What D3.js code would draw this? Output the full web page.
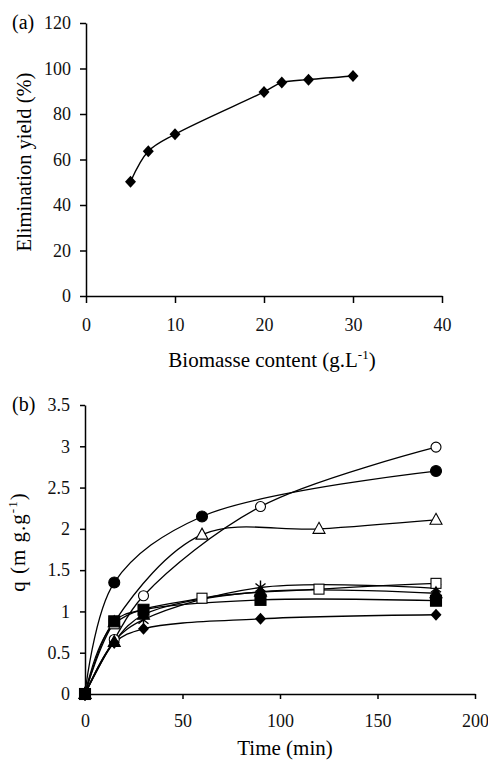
<!DOCTYPE html>
<html>
<head>
<meta charset="utf-8">
<script src="https://cdn.jsdelivr.net/npm/d3@7"></script>
<style>
  body { margin: 0; background: #fff; }
  svg { display: block; font-family: "Liberation Serif", "DejaVu Serif", serif; }
</style>
</head>
<body>
<svg id="chart" width="488" height="761"></svg>
<script>
// panel (a) : elimination yield vs biomass
var biomass = [5, 7, 10, 20, 22, 25, 30];
var yieldPct = [50.2, 63.6, 71.1, 89.7, 93.8, 95.1, 96.7];
var aTicksX = [0, 10, 20, 30, 40];
var aTicksY = [0, 20, 40, 60, 80, 100, 120];

// panel (b) : q vs time, one array per series
var tFilledCircle = [0, 15, 60, 180];
var qFilledCircle = [0, 1.35, 2.15, 2.70];
var tOpenCircle = [0, 15, 30, 90, 180];
var qOpenCircle = [0, 0.66, 1.19, 2.27, 2.99];
var tOpenTriangle = [0, 15, 60, 120, 180];
var qOpenTriangle = [0, 0.87, 1.93, 2.00, 2.11];
var tOpenSquare = [0, 15, 60, 120, 180];
var qOpenSquare = [0, 0.85, 1.16, 1.27, 1.34];
var tStar = [0, 15, 30, 90, 180];
var qStar = [0, 0.64, 0.90, 1.29, 1.28];
var tFilledTriangle = [0, 15, 30, 90, 180];
var qFilledTriangle = [0, 0.63, 0.96, 1.24, 1.22];
var tFilledSquare = [0, 15, 30, 90, 180];
var qFilledSquare = [0, 0.88, 1.02, 1.14, 1.13];
var tDiamond = [0, 15, 30, 90, 180];
var qDiamond = [0, 0.62, 0.79, 0.91, 0.96];
var bTicksX = [0, 50, 100, 150, 200];
var bTicksY = [0, 0.5, 1, 1.5, 2, 2.5, 3, 3.5];

var svg = d3.select("#chart");

function zip(t, q) { return t.map(function(d, i) { return [d, q[i]]; }); }

// order matters: later series' markers sit on top
var seriesB = [
  {pts: zip(tStar, qStar), mark: "star"},
  {pts: zip(tFilledCircle, qFilledCircle), mark: "circle"},
  {pts: zip(tOpenCircle, qOpenCircle), mark: "circleOpen"},
  {pts: zip(tOpenTriangle, qOpenTriangle), mark: "triangleOpen"},
  {pts: zip(tOpenSquare, qOpenSquare), mark: "squareOpen"},
  {pts: zip(tFilledTriangle, qFilledTriangle), mark: "triangle"},
  {pts: zip(tFilledSquare, qFilledSquare), mark: "square"},
  {pts: zip(tDiamond, qDiamond), mark: "diamond"}
];

function drawMark(g, kind, x, y) {
  var fill = kind.indexOf("Open") > 0 ? "#fff" : "#000";
  if (kind === "circle" || kind === "circleOpen") {
    g.append("circle").attr("cx", x).attr("cy", y).attr("r", kind === "circle" ? 5.5 : 5)
      .attr("fill", fill).attr("stroke", "#000").attr("stroke-width", 1.1);
  } else if (kind === "square" || kind === "squareOpen") {
    var s = kind === "square" ? 5.5 : 5;
    g.append("rect").attr("x", x - s).attr("y", y - s).attr("width", 2 * s).attr("height", 2 * s)
      .attr("fill", fill).attr("stroke", "#000").attr("stroke-width", 1.1);
  } else if (kind === "triangle" || kind === "triangleOpen") {
    g.append("path").attr("d", "M" + x + "," + (y - 6.5) + "L" + (x + 6) + "," + (y + 4.5) + "L" + (x - 6) + "," + (y + 4.5) + "Z")
      .attr("fill", fill).attr("stroke", "#000").attr("stroke-width", 1.1);
  } else if (kind === "diamond") {
    g.append("path").attr("d", "M" + x + "," + (y - 6) + "L" + (x + 5.5) + "," + y + "L" + x + "," + (y + 6) + "L" + (x - 5.5) + "," + y + "Z")
      .attr("fill", "#000");
  } else if (kind === "star") {
    g.append("path").attr("d", "M" + x + "," + (y - 7) + "V" + (y + 7) + "M" + (x - 5) + "," + (y - 4) + "L" + (x + 5) + "," + (y + 4) + "M" + (x + 5) + "," + (y - 4) + "L" + (x - 5) + "," + (y + 4))
      .attr("stroke", "#000").attr("stroke-width", 1.4);
  }
}

function styleAxis(g) {
  g.attr("font-family", null);
  g.selectAll("path, line").attr("stroke", "#000").attr("stroke-width", 1.5);
  g.selectAll("text").attr("font-size", 18).attr("fill", "#111");
}

// ----- panel (a)
var xA = d3.scaleLinear().domain([0, 40]).range([86, 442]);
var yA = d3.scaleLinear().domain([0, 120]).range([296, 23]);

svg.append("g").attr("transform", "translate(0,296)")
  .call(d3.axisBottom(xA).tickValues(aTicksX).tickSize(7).tickSizeOuter(0).tickPadding(15))
  .call(styleAxis);
svg.append("g").attr("transform", "translate(86,0)")
  .call(d3.axisLeft(yA).tickValues(aTicksY).tickSize(6).tickSizeOuter(0).tickPadding(9))
  .call(styleAxis);

var lineA = d3.line().x(function(d) { return xA(d[0]); }).y(function(d) { return yA(d[1]); })
  .curve(d3.curveCatmullRom.alpha(0.5));
svg.append("path").datum(zip(biomass, yieldPct)).attr("d", lineA)
  .attr("fill", "none").attr("stroke", "#000").attr("stroke-width", 1.4);
var gA = svg.append("g");
biomass.forEach(function(b, i) { drawMark(gA, "diamond", xA(b), yA(yieldPct[i])); });

svg.append("text").attr("x", 12).attr("y", 29).attr("font-size", 20).text("(a)");
svg.append("text").attr("transform", "translate(31,162) rotate(-90)")
  .attr("text-anchor", "middle").attr("font-size", 20.5).text("Elimination yield (%)");
var tA = svg.append("text").attr("x", 272).attr("y", 367).attr("text-anchor", "middle").attr("font-size", 21);
tA.append("tspan").text("Biomasse content (g.L");
tA.append("tspan").attr("font-size", 13).attr("dy", -8).text("-1");
tA.append("tspan").attr("dy", 8).text(")");

// ----- panel (b)
var xB = d3.scaleLinear().domain([0, 200]).range([85, 475]);
var yB = d3.scaleLinear().domain([0, 3.5]).range([694, 405]);

svg.append("g").attr("transform", "translate(0,694)")
  .call(d3.axisBottom(xB).tickValues(bTicksX).tickSize(5).tickSizeOuter(0).tickPadding(15))
  .call(styleAxis);
svg.append("g").attr("transform", "translate(85,0)")
  .call(d3.axisLeft(yB).tickValues(bTicksY).tickSize(5).tickSizeOuter(0).tickPadding(10).tickFormat(d3.format("")))
  .call(styleAxis);

var lineB = d3.line().x(function(d) { return xB(d[0]); }).y(function(d) { return yB(d[1]); })
  .curve(d3.curveCatmullRom.alpha(0.5));
var gLines = svg.append("g");
var gMarks = svg.append("g");
seriesB.forEach(function(s) {
  gLines.append("path").datum(s.pts).attr("d", lineB)
    .attr("fill", "none").attr("stroke", "#000").attr("stroke-width", 1.3);
});
seriesB.forEach(function(s) {
  s.pts.forEach(function(p) { drawMark(gMarks, s.mark, xB(p[0]), yB(p[1])); });
});

svg.append("text").attr("x", 12).attr("y", 411).attr("font-size", 20).text("(b)");
var qB = svg.append("text").attr("transform", "translate(25,542) rotate(-90)")
  .attr("text-anchor", "middle").attr("font-size", 21).attr("letter-spacing", 1);
qB.append("tspan").text("q (m g.g");
qB.append("tspan").attr("font-size", 13).attr("dy", -8).text("-1");
qB.append("tspan").attr("dy", 8).text(")");
svg.append("text").attr("x", 285).attr("y", 755).attr("text-anchor", "middle").attr("font-size", 21).text("Time (min)");
</script>
</body>
</html>
